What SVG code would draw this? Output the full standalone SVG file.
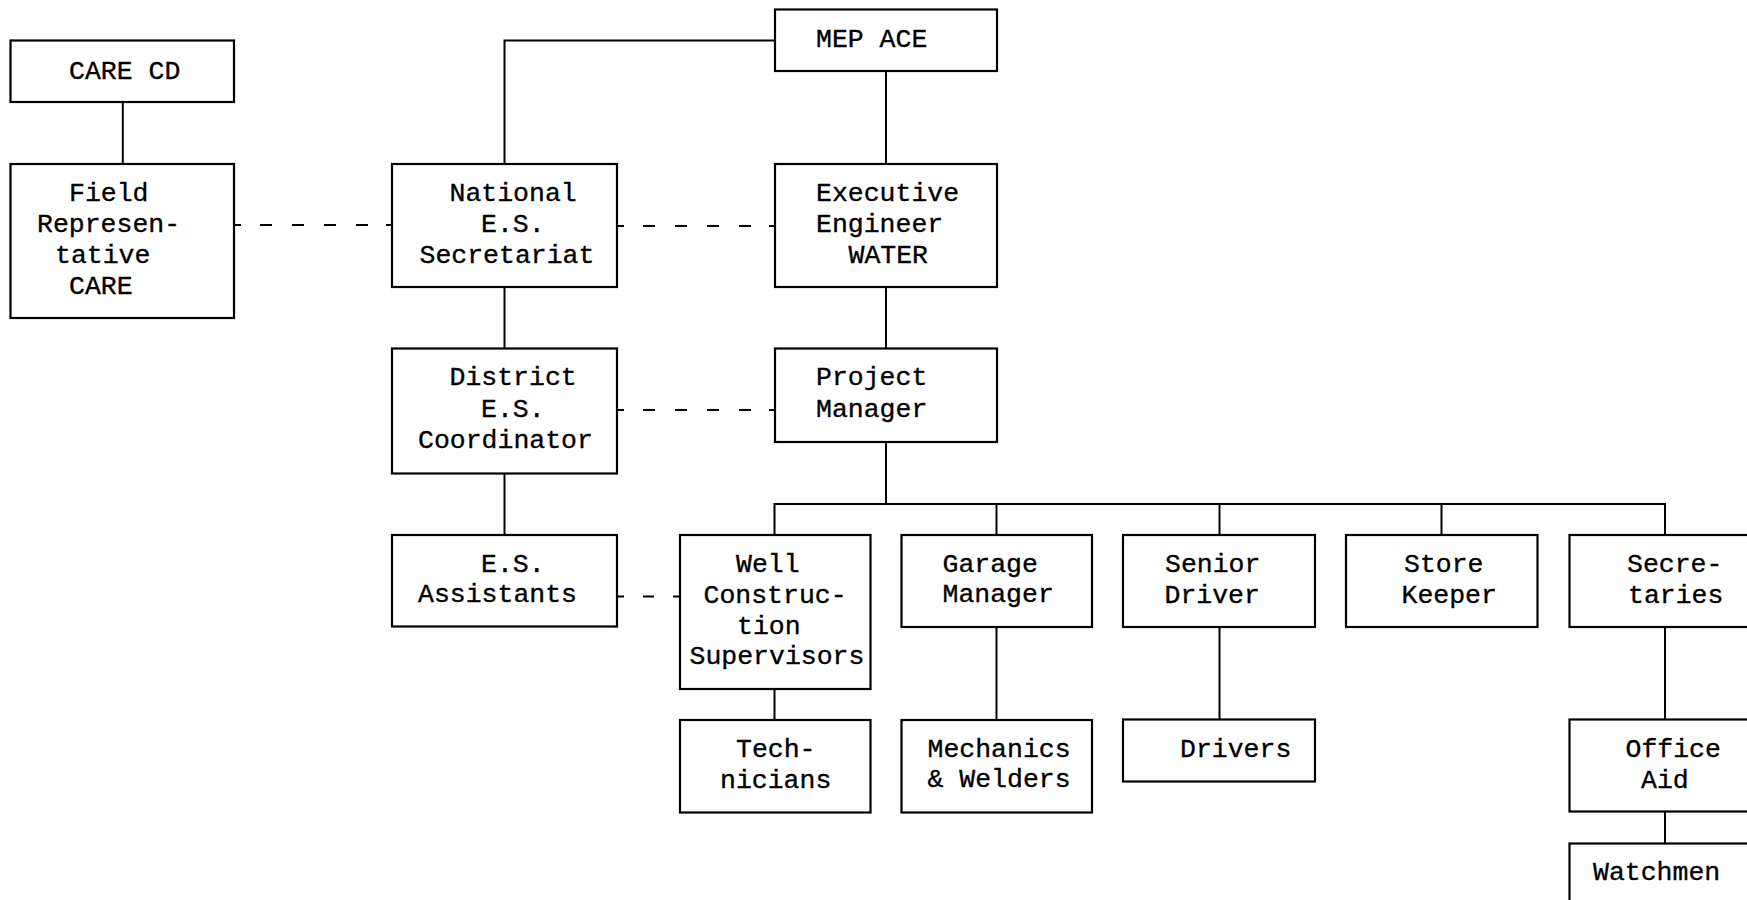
<svg xmlns="http://www.w3.org/2000/svg" width="1747" height="900" viewBox="0 0 1747 900">
<style>
rect.box{fill:#fff;stroke:#000;stroke-width:2.2}
.ln{fill:none;stroke:#000;stroke-width:2}
.dl{fill:none;stroke:#000;stroke-width:2;stroke-dasharray:7 19 12 20 12 20 12 20 12 18 6}
.ds{fill:none;stroke:#000;stroke-width:2;stroke-dasharray:7 19 11 19 7}
text{font-family:"Liberation Mono","DejaVu Sans Mono",monospace;font-size:26.5px;fill:#000;stroke:#000;stroke-width:0.35}
</style>
<rect width="1747" height="900" fill="#fff"/>
<g id="connectors">
<path class="ln" d="M122.8,102 V164"/>
<path class="ln" d="M504.5,164 V40.5 H775"/>
<path class="ln" d="M886,71 V164"/>
<path class="ln" d="M504.5,287 V348"/>
<path class="ln" d="M886,287 V348"/>
<path class="ln" d="M504.5,473 V535"/>
<path class="ln" d="M886,442 V504"/>
<path class="ln" d="M774.5,535 V504 H1665 V535"/>
<path class="ln" d="M996.5,504 V535"/>
<path class="ln" d="M1219.5,504 V535"/>
<path class="ln" d="M1441.5,504 V535"/>
<path class="ln" d="M774.5,689 V720"/>
<path class="ln" d="M996.5,627 V720"/>
<path class="ln" d="M1219.5,627 V720"/>
<path class="ln" d="M1665,627 V720"/>
<path class="ln" d="M1665,812 V843"/>
<path class="dl" d="M234,225 H392"/>
<path class="dl" d="M617,226 H775"/>
<path class="dl" d="M617,410 H775"/>
<path class="ds" d="M617,596.5 H680"/>
</g>
<g id="care_cd"><rect class="box" x="10.5" y="40.5" width="223.5" height="61.5"/><text x="69" y="78.5">CARE CD</text></g>
<g id="field_rep"><rect class="box" x="10.5" y="164" width="223.5" height="154"/>
<text x="69" y="201">Field</text><text x="37" y="232">Represen-</text><text x="55" y="263">tative</text><text x="69" y="294">CARE</text></g>
<g id="national"><rect class="box" x="392" y="164" width="225" height="123"/>
<text x="449.5" y="201">National</text><text x="481" y="232">E.S.</text><text x="419.5" y="262.5">Secretariat</text></g>
<g id="mep_ace"><rect class="box" x="775" y="9.5" width="222" height="61.5"/><text x="816" y="47">MEP ACE</text></g>
<g id="executive_engineer"><rect class="box" x="775" y="164" width="222" height="123"/>
<text x="816" y="201">Executive</text><text x="816" y="232">Engineer</text><text x="848.5" y="262.5">WATER</text></g>
<g id="district"><rect class="box" x="392" y="348.5" width="225" height="125"/>
<text x="449.5" y="385">District</text><text x="481" y="416.5">E.S.</text><text x="418" y="448">Coordinator</text></g>
<g id="project_manager"><rect class="box" x="775" y="348.5" width="222" height="93.5"/>
<text x="816" y="385">Project</text><text x="816" y="416.5">Manager</text></g>
<g id="es_assistants"><rect class="box" x="392" y="535" width="225" height="91.5"/>
<text x="481" y="571.5">E.S.</text><text x="418" y="601.5">Assistants</text></g>
<g id="well_construction"><rect class="box" x="680" y="535" width="190.5" height="154"/>
<text x="736" y="571.5">Well</text><text x="703.5" y="602.5">Construc-</text><text x="737" y="633.5">tion</text><text x="689.5" y="664">Supervisors</text></g>
<g id="garage_manager"><rect class="box" x="901.5" y="535" width="190.5" height="92"/>
<text x="942.5" y="571.5">Garage</text><text x="942.5" y="601.5">Manager</text></g>
<g id="senior_driver"><rect class="box" x="1123" y="535" width="192" height="92"/>
<text x="1165" y="571.5">Senior</text><text x="1164.5" y="602.5">Driver</text></g>
<g id="store_keeper"><rect class="box" x="1346" y="535" width="191.5" height="92"/>
<text x="1404" y="571.5">Store</text><text x="1401.5" y="602.5">Keeper</text></g>
<g id="secretaries"><rect class="box" x="1569.5" y="535" width="192" height="92"/>
<text x="1627" y="571.5">Secre-</text><text x="1628" y="602.5">taries</text></g>
<g id="technicians"><rect class="box" x="680" y="720" width="190.5" height="92.5"/>
<text x="736" y="757">Tech-</text><text x="720" y="788">nicians</text></g>
<g id="mechanics_welders"><rect class="box" x="901.5" y="720" width="190.5" height="92.5"/>
<text x="927.5" y="757">Mechanics</text><text x="927.5" y="787">&amp; Welders</text></g>
<g id="drivers"><rect class="box" x="1123" y="719.5" width="192" height="62"/>
<text x="1180" y="756.5">Drivers</text></g>
<g id="office_aid"><rect class="box" x="1569.5" y="719.5" width="192" height="92"/>
<text x="1625.5" y="756.5">Office</text><text x="1641" y="787.5">Aid</text></g>
<g id="watchmen"><rect class="box" x="1569.5" y="843.5" width="192" height="70"/>
<text x="1593" y="879.5">Watchmen</text></g>
</svg>
